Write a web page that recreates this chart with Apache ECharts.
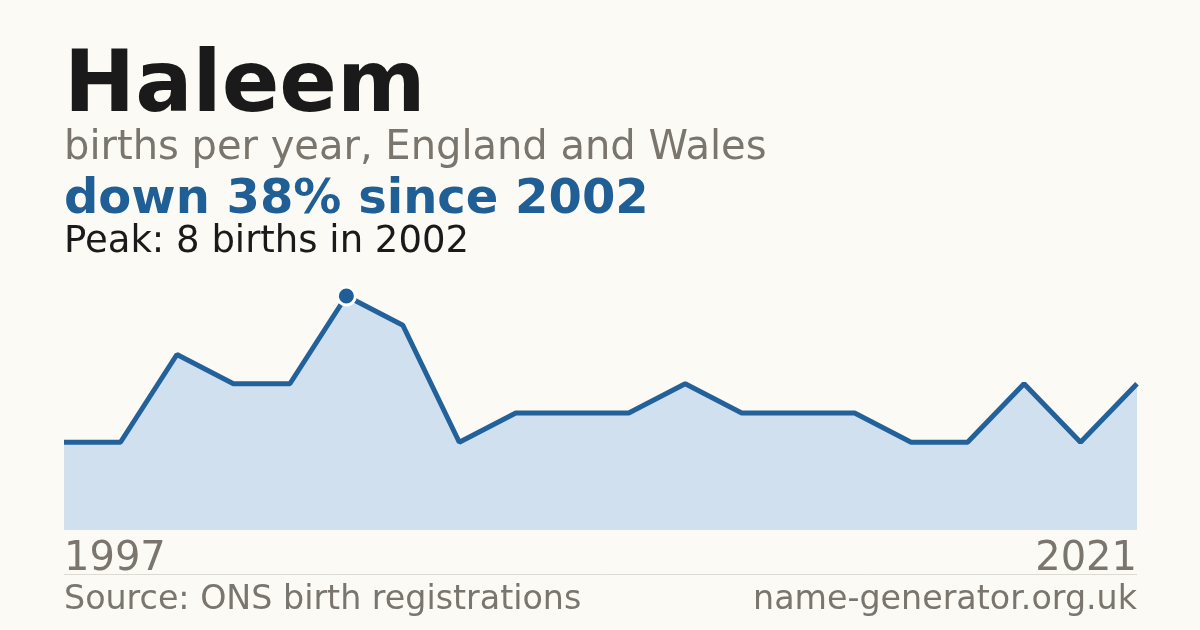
<!DOCTYPE html>
<html><head><meta charset="utf-8">
<script src="https://cdn.jsdelivr.net/npm/echarts@6/dist/echarts.min.js"></script>
<style>html,body{margin:0;padding:0;background:#fbfaf5;}#c{width:1200px;height:630px;}</style>
</head><body><div id="c"></div>
<script>
const years = ['1997','1998','1999','2000','2001','2002','2003','2004','2005','2006','2008','2009','2010','2011','2013','2014','2016','2017','2019','2021'];
const births = [3,3,6,5,5,8,7,3,4,4,4,5,4,4,4,3,3,5,3,5];
const peakIndex = 5;

const font = 'DejaVu Sans';
const chart = echarts.init(document.getElementById('c'), null, {renderer:'canvas'});
chart.setOption({
  backgroundColor:'#fbfaf5',
  animation:false,
  grid:{left:64,right:63,top:296,bottom:100},
  xAxis:{type:'category',data:years,boundaryGap:false,
    axisLine:{show:false},axisTick:{show:false},splitLine:{show:false},
    axisLabel:{interval:(i)=>i===0||i===years.length-1,fontFamily:font,fontSize:40,color:'#7a756d',margin:10,
      alignMinLabel:'left',alignMaxLabel:'right'}},
  yAxis:{type:'value',min:0,max:8,show:false},
  series:[{type:'line',data:births.map((v,i)=>i===peakIndex?{value:v,symbol:'circle',symbolSize:18,itemStyle:{color:'#1f5f95',borderColor:'#ffffff',borderWidth:3}}:v),
    showSymbol:true,symbol:'none',clip:false,
    lineStyle:{color:'#22619a',width:5},
    areaStyle:{color:'#d0e0ef',opacity:1}}],
  graphic:[
    {type:'text',left:64,top:46,style:{text:'Haleem',font:'bold 85px "DejaVu Sans"',fill:'#1a1a1a'}},
    {type:'text',left:64,top:129,style:{text:'births per year, England and Wales',font:'40px "DejaVu Sans"',fill:'#7a756d'}},
    {type:'text',left:64,top:177,style:{text:'down 38% since 2002',font:'bold 48px "DejaVu Sans"',fill:'#1f5f95'}},
    {type:'text',left:64,top:224,style:{text:'Peak: 8 births in 2002',font:'37px "DejaVu Sans"',fill:'#1a1a1a'}},
    {type:'line',shape:{x1:64,y1:574.5,x2:1137,y2:574.5},style:{stroke:'#dddad3',lineWidth:1}},
    {type:'text',left:64,top:584,style:{text:'Source: ONS birth registrations',font:'33.3px "DejaVu Sans"',fill:'#7a756d'}},
    {type:'text',right:63,top:584,style:{text:'name-generator.org.uk',font:'33.3px "DejaVu Sans"',fill:'#7a756d'}}
  ]
});
</script></body></html>
